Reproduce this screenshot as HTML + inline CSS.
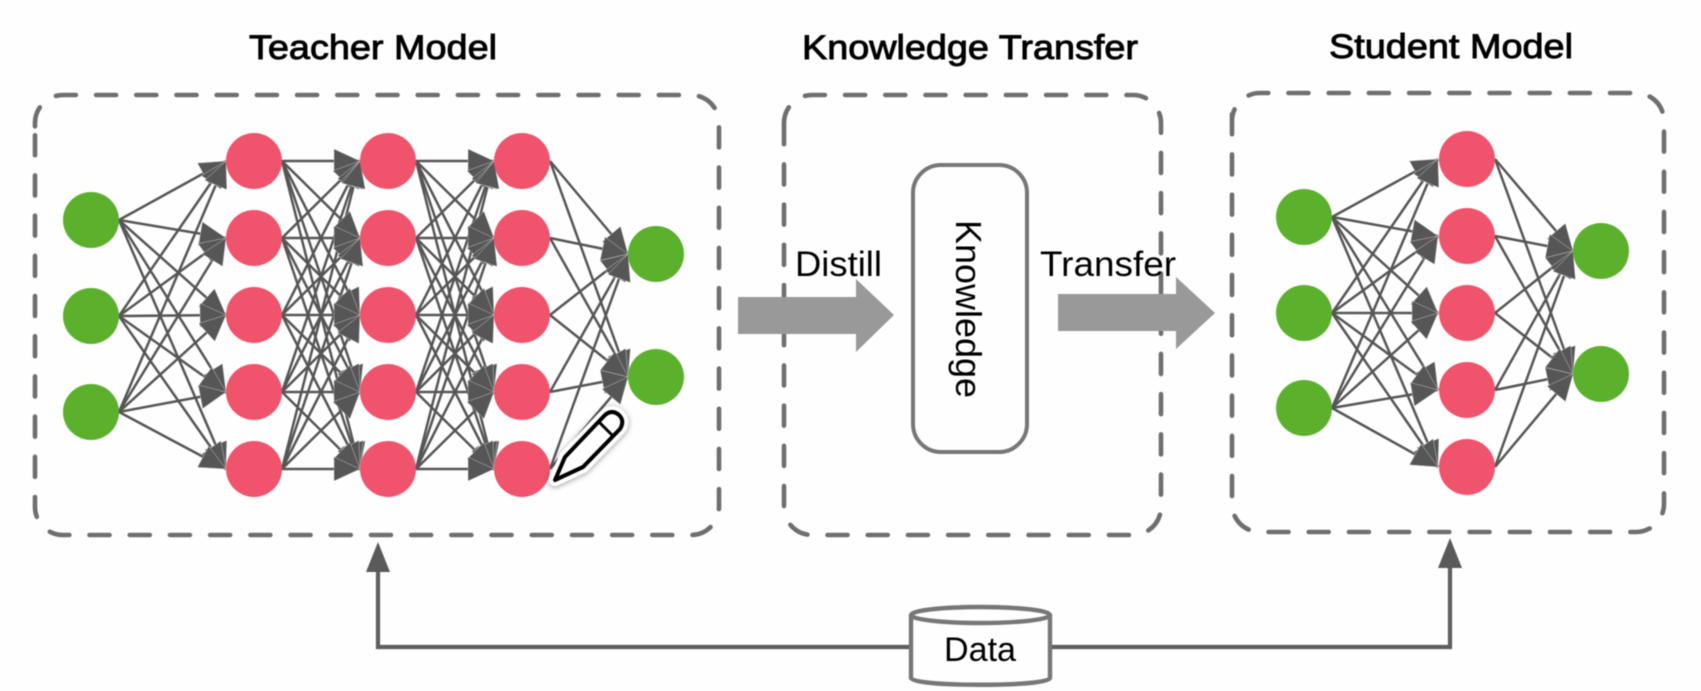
<!DOCTYPE html>
<html><head><meta charset="utf-8"><style>
html,body{margin:0;padding:0;background:#fefefe;width:1701px;height:691px;overflow:hidden}
svg{display:block;filter:blur(.4px)}
text{font-family:"Liberation Sans",sans-serif;fill:#000}
.t{stroke:#000;stroke-width:.9}
.d{fill:none;stroke:#6f6f6f;stroke-width:4.6;stroke-dasharray:20 20.2;stroke-linecap:round}
.L{stroke:#565656;stroke-width:2.5}
.M{stroke:none;marker-end:url(#a)}
.r{fill:#f0536c}
.g{fill:#5bb02c}
</style></head><body>
<svg width="1701" height="691" viewBox="0 0 1701 691" xmlns="http://www.w3.org/2000/svg">
<defs>
<marker id="a" markerUnits="userSpaceOnUse" markerWidth="1" markerHeight="1" refX="0" refY="0" orient="auto" overflow="visible" style="overflow:visible">
<polygon points="-26,-12 0,0 -26,12" fill="#565656" stroke="#e8e8e8" stroke-width=".35" stroke-linejoin="miter"/>
</marker>
<filter id="s" x="-30%" y="-30%" width="160%" height="160%"><feDropShadow dx="0" dy="1" stdDeviation="3" flood-color="#000" flood-opacity=".4"/></filter>
<g id="mesh">
<line x1="282" y1="161" x2="360" y2="161"/><line x1="282" y1="161" x2="360" y2="238"/><line x1="282" y1="161" x2="360" y2="315"/><line x1="282" y1="161" x2="360" y2="392"/><line x1="282" y1="161" x2="360" y2="469"/>
<line x1="282" y1="238" x2="360" y2="161"/><line x1="282" y1="238" x2="360" y2="238"/><line x1="282" y1="238" x2="360" y2="315"/><line x1="282" y1="238" x2="360" y2="392"/><line x1="282" y1="238" x2="360" y2="469"/>
<line x1="282" y1="315" x2="360" y2="161"/><line x1="282" y1="315" x2="360" y2="238"/><line x1="282" y1="315" x2="360" y2="315"/><line x1="282" y1="315" x2="360" y2="392"/><line x1="282" y1="315" x2="360" y2="469"/>
<line x1="282" y1="392" x2="360" y2="161"/><line x1="282" y1="392" x2="360" y2="238"/><line x1="282" y1="392" x2="360" y2="315"/><line x1="282" y1="392" x2="360" y2="392"/><line x1="282" y1="392" x2="360" y2="469"/>
<line x1="282" y1="469" x2="360" y2="161"/><line x1="282" y1="469" x2="360" y2="238"/><line x1="282" y1="469" x2="360" y2="315"/><line x1="282" y1="469" x2="360" y2="392"/><line x1="282" y1="469" x2="360" y2="469"/>
</g>
<g id="tin">
<line x1="119" y1="220" x2="226" y2="161"/><line x1="119" y1="220" x2="226" y2="238"/><line x1="119" y1="220" x2="226" y2="315"/><line x1="119" y1="220" x2="226" y2="392"/><line x1="119" y1="220" x2="226" y2="469"/>
<line x1="119" y1="316" x2="226" y2="161"/><line x1="119" y1="316" x2="226" y2="238"/><line x1="119" y1="316" x2="226" y2="315"/><line x1="119" y1="316" x2="226" y2="392"/><line x1="119" y1="316" x2="226" y2="469"/>
<line x1="119" y1="412" x2="226" y2="161"/><line x1="119" y1="412" x2="226" y2="238"/><line x1="119" y1="412" x2="226" y2="315"/><line x1="119" y1="412" x2="226" y2="392"/><line x1="119" y1="412" x2="226" y2="469"/>
</g>
<g id="tout">
<line x1="550" y1="161" x2="628" y2="254"/><line x1="550" y1="161" x2="628" y2="377"/>
<line x1="550" y1="238" x2="628" y2="254"/><line x1="550" y1="238" x2="628" y2="377"/>
<line x1="550" y1="315" x2="628" y2="254"/><line x1="550" y1="315" x2="628" y2="377"/>
<line x1="550" y1="392" x2="628" y2="254"/><line x1="550" y1="392" x2="628" y2="377"/>
<line x1="550" y1="469" x2="628" y2="254"/><line x1="550" y1="469" x2="628" y2="377"/>
</g>
<g id="stu">
<line x1="1332" y1="217" x2="1438" y2="159"/><line x1="1332" y1="217" x2="1438" y2="236"/><line x1="1332" y1="217" x2="1438" y2="313"/><line x1="1332" y1="217" x2="1438" y2="390"/><line x1="1332" y1="217" x2="1438" y2="467"/>
<line x1="1332" y1="313" x2="1438" y2="159"/><line x1="1332" y1="313" x2="1438" y2="236"/><line x1="1332" y1="313" x2="1438" y2="313"/><line x1="1332" y1="313" x2="1438" y2="390"/><line x1="1332" y1="313" x2="1438" y2="467"/>
<line x1="1332" y1="408" x2="1438" y2="159"/><line x1="1332" y1="408" x2="1438" y2="236"/><line x1="1332" y1="408" x2="1438" y2="313"/><line x1="1332" y1="408" x2="1438" y2="390"/><line x1="1332" y1="408" x2="1438" y2="467"/>
<line x1="1495" y1="159" x2="1573" y2="251"/><line x1="1495" y1="159" x2="1573" y2="374"/>
<line x1="1495" y1="236" x2="1573" y2="251"/><line x1="1495" y1="236" x2="1573" y2="374"/>
<line x1="1495" y1="313" x2="1573" y2="251"/><line x1="1495" y1="313" x2="1573" y2="374"/>
<line x1="1495" y1="390" x2="1573" y2="251"/><line x1="1495" y1="390" x2="1573" y2="374"/>
<line x1="1495" y1="467" x2="1573" y2="251"/><line x1="1495" y1="467" x2="1573" y2="374"/>
</g>
</defs>
<rect width="1701" height="691" fill="#fefefe"/>

<!-- titles -->
<text class="t" x="249" y="59" font-size="34" textLength="248" lengthAdjust="spacingAndGlyphs">Teacher Model</text>
<text class="t" x="802" y="59" font-size="34" textLength="336" lengthAdjust="spacingAndGlyphs">Knowledge Transfer</text>
<text class="t" x="1329" y="58" font-size="34" textLength="244" lengthAdjust="spacingAndGlyphs">Student Model</text>

<!-- dashed boxes -->
<path class="d" d="M35 135.25V507A28 28 0 0 0 63 535H691A28 28 0 0 0 719 507V123A28 28 0 0 0 691 95H63A28 28 0 0 0 35 123V135.25"/>
<path class="d" d="M784 124.25V507A28 28 0 0 0 812 535H1133A28 28 0 0 0 1161 507V123A28 28 0 0 0 1133 95H812A28 28 0 0 0 784 123V124.25"/>
<path class="d" d="M1232 114.25V504A28 28 0 0 0 1260 532H1636A28 28 0 0 0 1664 504V121A28 28 0 0 0 1636 93H1260A28 28 0 0 0 1232 121V114.25"/>

<!-- teacher network -->
<g class="L">
<use href="#tin"/><use href="#mesh"/><use href="#mesh" transform="translate(134 0)"/><use href="#tout"/>
</g>
<g class="M">
<use href="#tin"/><use href="#mesh"/><use href="#mesh" transform="translate(134 0)"/><use href="#tout"/>
</g>
<g class="g"><circle cx="91" cy="220" r="28"/><circle cx="91" cy="316" r="28"/><circle cx="91" cy="412" r="28"/><circle cx="656" cy="254" r="28"/><circle cx="656" cy="377" r="28"/></g>
<g class="r">
<circle cx="254" cy="161" r="28"/><circle cx="254" cy="238" r="28"/><circle cx="254" cy="315" r="28"/><circle cx="254" cy="392" r="28"/><circle cx="254" cy="469" r="28"/>
<circle cx="388" cy="161" r="28"/><circle cx="388" cy="238" r="28"/><circle cx="388" cy="315" r="28"/><circle cx="388" cy="392" r="28"/><circle cx="388" cy="469" r="28"/>
<circle cx="522" cy="161" r="28"/><circle cx="522" cy="238" r="28"/><circle cx="522" cy="315" r="28"/><circle cx="522" cy="392" r="28"/><circle cx="522" cy="469" r="28"/>
</g>

<!-- pencil -->
<path d="M555 480L565 457L605 415Q612 409 619 415Q625 421 620 429L583 467Z" fill="#fff" stroke="#fff" stroke-width="12" stroke-linejoin="round" filter="url(#s)"/>
<path d="M555 480L565 457L605 415Q612 409 619 415Q625 421 620 429L583 467Z" fill="#fff" stroke="#000" stroke-width="4" stroke-linejoin="round"/>
<line x1="599" y1="422" x2="612" y2="435" stroke="#000" stroke-width="3"/>

<!-- student network -->
<use href="#stu" class="L"/>
<use href="#stu" class="M"/>
<g class="g"><circle cx="1304" cy="217" r="28"/><circle cx="1304" cy="313" r="28"/><circle cx="1304" cy="408" r="28"/><circle cx="1601" cy="251" r="28"/><circle cx="1601" cy="374" r="28"/></g>
<g class="r"><circle cx="1467" cy="159" r="28"/><circle cx="1467" cy="236" r="28"/><circle cx="1467" cy="313" r="28"/><circle cx="1467" cy="390" r="28"/><circle cx="1467" cy="467" r="28"/></g>

<!-- big arrows -->
<polygon points="738,297 856,297 856,279 894,315 856,352 856,334 738,334" fill="#999"/>
<polygon points="1058,294 1176,294 1176,277 1215,313 1176,349 1176,331 1058,331" fill="#999"/>
<text x="795" y="276" font-size="35" textLength="87" lengthAdjust="spacingAndGlyphs">Distill</text>
<text x="1040" y="276" font-size="35" textLength="136" lengthAdjust="spacingAndGlyphs">Transfer</text>

<!-- knowledge box -->
<rect x="913" y="165" width="114" height="287" rx="28" fill="#fefefe" stroke="#777" stroke-width="4"/>
<text transform="translate(956 220) rotate(90)" font-size="36" textLength="178" lengthAdjust="spacingAndGlyphs">Knowledge</text>

<!-- data connector -->
<path d="M911 647H378V570" fill="none" stroke="#5e5e5e" stroke-width="4.2"/>
<polygon points="378,542 390,572 366,572" fill="#5a5a5a"/>
<path d="M1050 647H1450V566" fill="none" stroke="#5e5e5e" stroke-width="4.2"/>
<polygon points="1450,538 1462,568 1438,568" fill="#5a5a5a"/>

<!-- cylinder -->
<path d="M911 615V678C911 687 1050 687 1050 678V615" fill="#fefefe" stroke="#777" stroke-width="4.4"/>
<ellipse cx="980.5" cy="615" rx="69.5" ry="8" fill="#fefefe" stroke="#777" stroke-width="4.4"/>
<text x="944" y="661" font-size="34" textLength="72" lengthAdjust="spacingAndGlyphs">Data</text>
</svg>
</body></html>
